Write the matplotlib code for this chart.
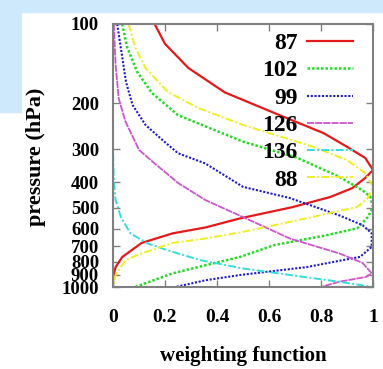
import matplotlib
matplotlib.use("Agg")
import matplotlib.pyplot as plt
from matplotlib.patches import Rectangle
from matplotlib.ticker import FixedLocator, FixedFormatter, NullLocator

plt.rcParams['font.family'] = ['Liberation Serif', 'DejaVu Serif']
plt.rcParams['font.weight'] = 'bold'

# channel labels (legend order)
channels = ["87", "102", "99", "126", "136", "88"]

p_87 = [100, 119, 147, 182, 222, 260, 293, 323, 359, 385, 421, 455, 497, 548, 594, 625, 680, 770, 840, 920, 1000]
w_87 = [0.16, 0.20, 0.29, 0.43, 0.64, 0.81, 0.90, 0.97, 1.0, 0.97, 0.92, 0.835, 0.69, 0.49, 0.355, 0.23, 0.11, 0.035, 0.01, 0.0, 0.0]

p_102 = [100, 123, 152, 183, 222, 253, 280, 323, 381, 429, 454, 497, 542, 598, 636, 693, 768, 827, 887, 1000]
w_102 = [0.035, 0.055, 0.093, 0.15, 0.25, 0.39, 0.5, 0.71, 0.87, 0.96, 0.99, 1.0, 0.98, 0.94, 0.82, 0.62, 0.49, 0.355, 0.23, 0.085]

p_99 = [100, 123, 166, 203, 242, 276, 310, 339, 416, 459, 534, 582, 625, 704, 768, 840, 900, 943, 1000]
w_99 = [0.016, 0.03, 0.05, 0.075, 0.125, 0.19, 0.25, 0.355, 0.5, 0.68, 0.87, 0.96, 0.995, 0.995, 0.95, 0.745, 0.49, 0.355, 0.24]

p_126 = [100, 143, 192, 235, 301, 339, 402, 467, 542, 654, 745, 810, 887, 915, 955, 1000]
w_126 = [0.003, 0.01, 0.022, 0.048, 0.1, 0.16, 0.25, 0.355, 0.5, 0.68, 0.87, 0.96, 0.995, 0.975, 0.87, 0.80]

p_136 = [100, 300, 392, 467, 541, 625, 681, 725, 790, 850, 900, 955, 1000]
w_136 = [0.0, 0.0, 0.003, 0.01, 0.03, 0.067, 0.13, 0.21, 0.335, 0.5, 0.68, 0.87, 1.0]

p_88 = [100, 123, 147, 181, 209, 242, 293, 329, 369, 416, 459, 496, 548, 620, 654, 680, 745, 790, 900, 1000]
w_88 = [0.06, 0.086, 0.125, 0.21, 0.33, 0.5, 0.77, 0.90, 0.97, 1.0, 0.98, 0.94, 0.745, 0.49, 0.355, 0.23, 0.11, 0.048, 0.01, 0.0]

x_ticks = [0, 0.2, 0.4, 0.6, 0.8, 1]
x_ticklabels = ["0", "0.2", "0.4", "0.6", "0.8", "1"]
y_ticks = [100, 200, 300, 400, 500, 600, 700, 800, 900, 1000]

fig = plt.figure(figsize=(3.83, 3.69), dpi=100)

# light blue backdrop behind the panel
bg = '#cde9fb'
fig.patches.append(Rectangle((0, 1 - 12 / 369), 1, 12 / 369, transform=fig.transFigure, color=bg, zorder=0))
fig.patches.append(Rectangle((0, 1 - 112 / 369), 21 / 383, 112 / 369, transform=fig.transFigure, color=bg, zorder=0))

ax = fig.add_axes([113 / 383, 1 - 287 / 369, 260 / 383, 263 / 369])

ax.plot(w_87, p_87, color='#e41a1a', lw=1.6, ls='-', label=channels[0])
ax.plot(w_102, p_102, color='#22dd22', lw=1.8, ls=(0, (1, 0.8)), label=channels[1])
ax.plot(w_99, p_99, color='#1a1ad0', lw=1.5, ls=(0, (1, 0.8)), label=channels[2])
ax.plot(w_126, p_126, color='#cc55cc', lw=1.3, ls=(0, (4, 0.5)), label=channels[3])
ax.plot(w_136, p_136, color='#33dddd', lw=1.4, ls=(0, (4, 1.2, 1, 1.2)), label=channels[4])
ax.plot(w_88, p_88, color='#eeee22', lw=1.4, ls=(0, (4, 1.2, 1, 1.2)), label=channels[5])

ax.set_yscale('log')
ax.set_xlim(0, 1)
ax.set_ylim(1000, 100)
ax.yaxis.set_major_locator(FixedLocator(y_ticks))
ax.yaxis.set_major_formatter(FixedFormatter([str(v) for v in y_ticks]))
ax.yaxis.set_minor_locator(NullLocator())
ax.set_xticks(x_ticks)
ax.set_xticklabels(x_ticklabels)

for s in ax.spines.values():
    s.set_color('#808080')
    s.set_linewidth(1.5)
ax.tick_params(direction='in', length=5, width=1, color='#808080', top=True, right=True)
ax.tick_params(axis='x', pad=16, labelsize=14)
ax.tick_params(axis='y', pad=10, labelsize=13.5)

ax.set_xlabel("weighting function", fontsize=15, fontweight='bold')
ax.xaxis.set_label_coords(0.5, -0.262)
ax.xaxis.label.set_va('center')
ax.set_ylabel("pressure (hPa)", fontsize=16, fontweight='bold')
ax.yaxis.set_label_coords(-0.296, 0.494)
ax.yaxis.label.set_va('center')

leg = ax.legend(loc='upper right', bbox_to_anchor=(0.988, 1.03), frameon=False, markerfirst=False,
                fontsize=17, handlelength=1.95, handletextpad=0.42, labelspacing=0.245,
                borderaxespad=0.3)

plt.savefig("out.png", dpi=100)
